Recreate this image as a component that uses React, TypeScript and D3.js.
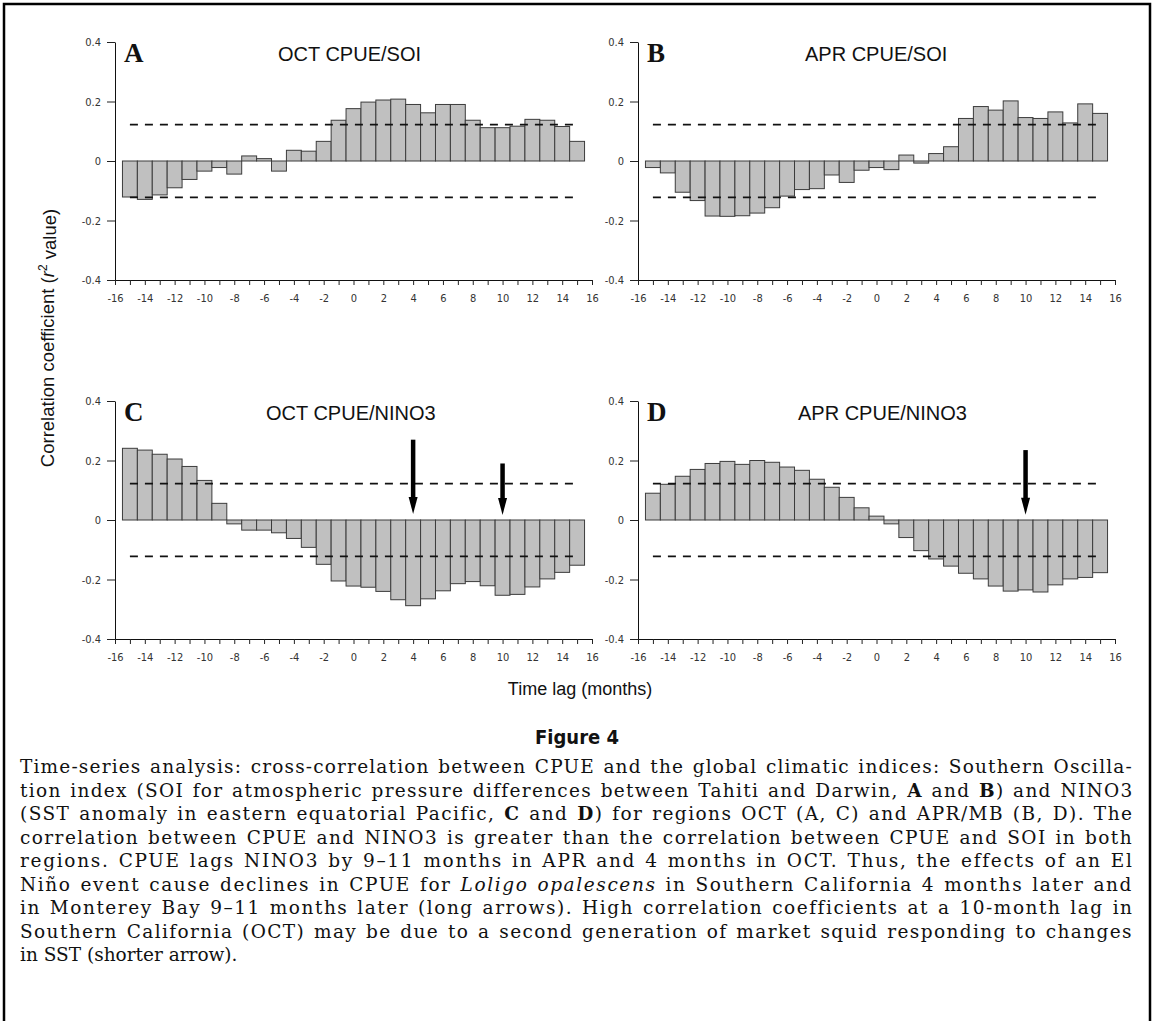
import React, { useEffect, useRef } from "react";
import * as d3 from "d3";

// lag in months, one bar per lag
const lags = [
  -15, -14, -13, -12, -11, -10, -9, -8, -7, -6, -5, -4, -3, -2, -1, 0, 1, 2, 3,
  4, 5, 6, 7, 8, 9, 10, 11, 12, 13, 14, 15,
];
const xTickLabels = [-16, -14, -12, -10, -8, -6, -4, -2, 0, 2, 4, 6, 8, 10, 12, 14, 16];
const yTickLabels = [0.4, 0.2, 0, -0.2, -0.4];

const octSoi = [
  -0.121, -0.129, -0.114, -0.09, -0.062, -0.034, -0.022, -0.044, 0.017, 0.008,
  -0.034, 0.036, 0.033, 0.066, 0.137, 0.176, 0.198, 0.205, 0.208, 0.19, 0.162,
  0.19, 0.19, 0.137, 0.112, 0.112, 0.117, 0.14, 0.137, 0.116, 0.066,
];
const aprSoi = [
  -0.022, -0.04, -0.105, -0.133, -0.185, -0.186, -0.184, -0.175, -0.157, -0.118,
  -0.096, -0.093, -0.047, -0.072, -0.031, -0.022, -0.029, 0.02, -0.007, 0.025,
  0.048, 0.143, 0.183, 0.171, 0.202, 0.146, 0.143, 0.165, 0.128, 0.192, 0.16,
];
const octNino3 = [
  0.241, 0.235, 0.221, 0.205, 0.18, 0.133, 0.056, -0.013, -0.034, -0.034, -0.043,
  -0.062, -0.092, -0.149, -0.205, -0.222, -0.226, -0.24, -0.268, -0.288, -0.265,
  -0.238, -0.214, -0.207, -0.221, -0.253, -0.25, -0.225, -0.198, -0.176, -0.152,
];
const aprNino3 = [
  0.09, 0.12, 0.147, 0.17, 0.19, 0.197, 0.187, 0.2, 0.194, 0.178, 0.167, 0.137,
  0.11, 0.076, 0.041, 0.013, -0.013, -0.059, -0.103, -0.131, -0.155, -0.179,
  -0.198, -0.222, -0.239, -0.235, -0.242, -0.218, -0.198, -0.193, -0.177,
];

// significance level (dashed lines)
const signif = 0.122;

type Arrow = { lag: number; from: number; to: number };
const octNino3Arrows: Arrow[] = [
  { lag: 4, from: 0.27, to: 0.02 },
  { lag: 10, from: 0.19, to: 0.017 },
];
const aprNino3Arrows: Arrow[] = [{ lag: 10, from: 0.235, to: 0.018 }];

const panels = [
  { letter: "A", title: "OCT CPUE/SOI", values: octSoi, col: 0, row: 0, titleDx: 163, arrows: [] as Arrow[] },
  { letter: "B", title: "APR CPUE/SOI", values: aprSoi, col: 1, row: 0, titleDx: 167, arrows: [] as Arrow[] },
  { letter: "C", title: "OCT CPUE/NINO3", values: octNino3, col: 0, row: 1, titleDx: 151, arrows: octNino3Arrows },
  { letter: "D", title: "APR CPUE/NINO3", values: aprNino3, col: 1, row: 1, titleDx: 160, arrows: aprNino3Arrows },
];

// caption: segments of [text, style]  ("" plain, "b" bold, "i" italic)
const captionLines: [string, string][][] = [
  [["Time-series analysis: cross-correlation between CPUE and the global climatic indices: Southern Oscilla-", ""]],
  [["tion index (SOI for atmospheric pressure differences between Tahiti and Darwin, ", ""], ["A", "b"], [" and ", ""], ["B", "b"], [") and NINO3", ""]],
  [["(SST anomaly in eastern equatorial Pacific, ", ""], ["C", "b"], [" and ", ""], ["D", "b"], [") for regions OCT (A, C) and APR/MB (B, D). The", ""]],
  [["correlation between CPUE and NINO3 is greater than the correlation between CPUE and SOI in both", ""]],
  [["regions. CPUE lags NINO3 by 9–11 months in APR and 4 months in OCT. Thus, the effects of an El", ""]],
  [["Niño event cause declines in CPUE for ", ""], ["Loligo opalescens", "i"], [" in Southern California 4 months later and", ""]],
  [["in Monterey Bay 9–11 months later (long arrows). High correlation coefficients at a 10-month lag in", ""]],
  [["Southern California (OCT) may be due to a second generation of market squid responding to changes", ""]],
  [["in SST (shorter arrow).", ""]],
];

const W = 1153;
const H = 1021;
const tickFont = "'Liberation Sans Narrow', 'Arial Narrow', 'DejaVu Sans Condensed', 'Liberation Sans', sans-serif";
const sansFont = "'Liberation Sans', Arial, sans-serif";

const App: React.FC = () => {
  const ref = useRef<SVGSVGElement | null>(null);

  useEffect(() => {
    if (!ref.current) return;
    const svg = d3.select(ref.current);
    svg.selectAll("*").remove();

    svg.append("rect").attr("width", W).attr("height", H).attr("fill", "#fff");

    // frame
    svg
      .append("path")
      .attr("d", `M4,${H}V4H1150V${H}`)
      .attr("fill", "none")
      .attr("stroke", "#000")
      .attr("stroke-width", 2.5);

    const colLeft = [115, 638];
    const rowRange = [
      [280, 42],
      [639, 401],
    ];
    const plotW = 477;

    panels.forEach((p) => {
      const x = d3
        .scaleLinear()
        .domain([-16, 16])
        .range([colLeft[p.col], colLeft[p.col] + plotW]);
      const y = d3.scaleLinear().domain([-0.4, 0.4]).range(rowRange[p.row]);
      const g = svg.append("g");

      // bars
      g.append("g")
        .selectAll("rect")
        .data(p.values)
        .join("rect")
        .attr("x", (d, i) => x(lags[i] - 0.5))
        .attr("width", x(1) - x(0))
        .attr("y", (d) => y(Math.max(d, 0)))
        .attr("height", (d) => Math.abs(y(d) - y(0)))
        .attr("fill", "#c0c0c0")
        .attr("stroke", "#3c3c3c")
        .attr("stroke-width", 1);

      // significance lines
      [signif, -signif].forEach((s) => {
        g.append("line")
          .attr("x1", x(-15))
          .attr("x2", x(15))
          .attr("y1", y(s))
          .attr("y2", y(s))
          .attr("stroke", "#111")
          .attr("stroke-width", 1.8)
          .attr("stroke-dasharray", "8,7");
      });

      // y axis
      const ya = g
        .append("g")
        .attr("transform", `translate(${colLeft[p.col]},0)`)
        .call(
          d3
            .axisLeft(y)
            .tickValues(yTickLabels)
            .tickSize(8)
            .tickSizeOuter(0)
            .tickPadding(6)
            .tickFormat((d) => (+d === 0 ? "0" : (+d).toFixed(1)))
        );

      // x axis
      const xa = g
        .append("g")
        .attr("transform", `translate(0,${y(-0.4)})`)
        .call(
          d3
            .axisBottom(x)
            .tickValues(d3.range(-16, 17))
            .tickSize(5)
            .tickSizeOuter(0)
            .tickPadding(9)
            .tickFormat((d) => (xTickLabels.includes(+d) ? String(d) : ""))
        );

      [ya, xa].forEach((a) => {
        a.selectAll("path").attr("stroke", "#111");
        a.selectAll("line").attr("stroke", "#222");
        a.selectAll("text")
          .attr("font-family", tickFont)
          .attr("font-size", 11)
          .attr("fill", "#333");
      });

      // panel letter and title
      g.append("text")
        .attr("x", colLeft[p.col] + 9)
        .attr("y", y(0.4) + 20)
        .attr("font-family", "'Liberation Serif', 'Times New Roman', serif")
        .attr("font-weight", "bold")
        .attr("font-size", 27)
        .attr("fill", "#111")
        .text(p.letter);

      g.append("text")
        .attr("x", colLeft[p.col] + p.titleDx)
        .attr("y", y(0.4) + 19)
        .attr("font-family", sansFont)
        .attr("font-size", 20)
        .attr("fill", "#111")
        .text(p.title);

      // arrows
      p.arrows.forEach((a) => {
        const cx = x(a.lag);
        const tip = y(a.to);
        const headTop = tip - 17;
        g.append("line")
          .attr("x1", cx)
          .attr("x2", cx)
          .attr("y1", y(a.from))
          .attr("y2", headTop + 2)
          .attr("stroke", "#000")
          .attr("stroke-width", 4.5);
        g.append("path")
          .attr("d", `M${cx - 4.5},${headTop}L${cx + 4.5},${headTop}L${cx},${tip}Z`)
          .attr("fill", "#000");
      });
    });

    // axis titles
    const yl = svg
      .append("text")
      .attr("transform", "translate(48,338) rotate(-90)")
      .attr("text-anchor", "middle")
      .attr("dy", "0.35em")
      .attr("font-family", sansFont)
      .attr("font-size", 18.5)
      .attr("fill", "#111");
    yl.append("tspan").text("Correlation coefficient (");
    yl.append("tspan").attr("font-style", "italic").text("r");
    yl.append("tspan").attr("font-size", 12).attr("dy", "-0.6em").text("2");
    yl.append("tspan").attr("dy", "0.45em").text(" value)");

    svg
      .append("text")
      .attr("x", 580)
      .attr("y", 695)
      .attr("text-anchor", "middle")
      .attr("font-family", sansFont)
      .attr("font-size", 18)
      .attr("fill", "#111")
      .text("Time lag (months)");

    svg
      .append("text")
      .attr("x", 577)
      .attr("y", 744)
      .attr("text-anchor", "middle")
      .attr("font-family", tickFont)
      .attr("font-weight", "bold")
      .attr("font-size", 20)
      .attr("fill", "#111")
      .text("Figure 4");

    // caption, justified: a little extra word spacing, the rest as letter spacing
    const left = 20;
    const right = 1133;
    captionLines.forEach((segs, i) => {
      const t = svg
        .append("text")
        .attr("x", left)
        .attr("y", 773 + i * 23.5)
        .attr("font-family", "'DejaVu Serif', 'Liberation Serif', serif")
        .attr("font-size", 18.5)
        .attr("fill", "#111");
      segs.forEach(([s, st]) => {
        const ts = t.append("tspan").text(s);
        if (st === "b") ts.attr("font-weight", "bold");
        if (st === "i") ts.attr("font-style", "italic");
      });
      if (i < captionLines.length - 1) {
        const node = t.node() as SVGTextElement;
        const w = node.getComputedTextLength();
        const full = segs.map((s) => s[0]).join("");
        const spaces = (full.match(/ /g) || []).length;
        const extra = right - left - w;
        const ws = Math.min(1.5, Math.max(0, extra / Math.max(spaces, 1)));
        const ls = (extra - ws * spaces) / full.length;
        t.attr("word-spacing", ws).attr("letter-spacing", ls);
      }
    });
  }, []);

  return (
    <svg
      ref={ref}
      width={W}
      height={H}
      style={{ position: "absolute", left: 0, top: 0, display: "block" }}
    />
  );
};

export default App;
